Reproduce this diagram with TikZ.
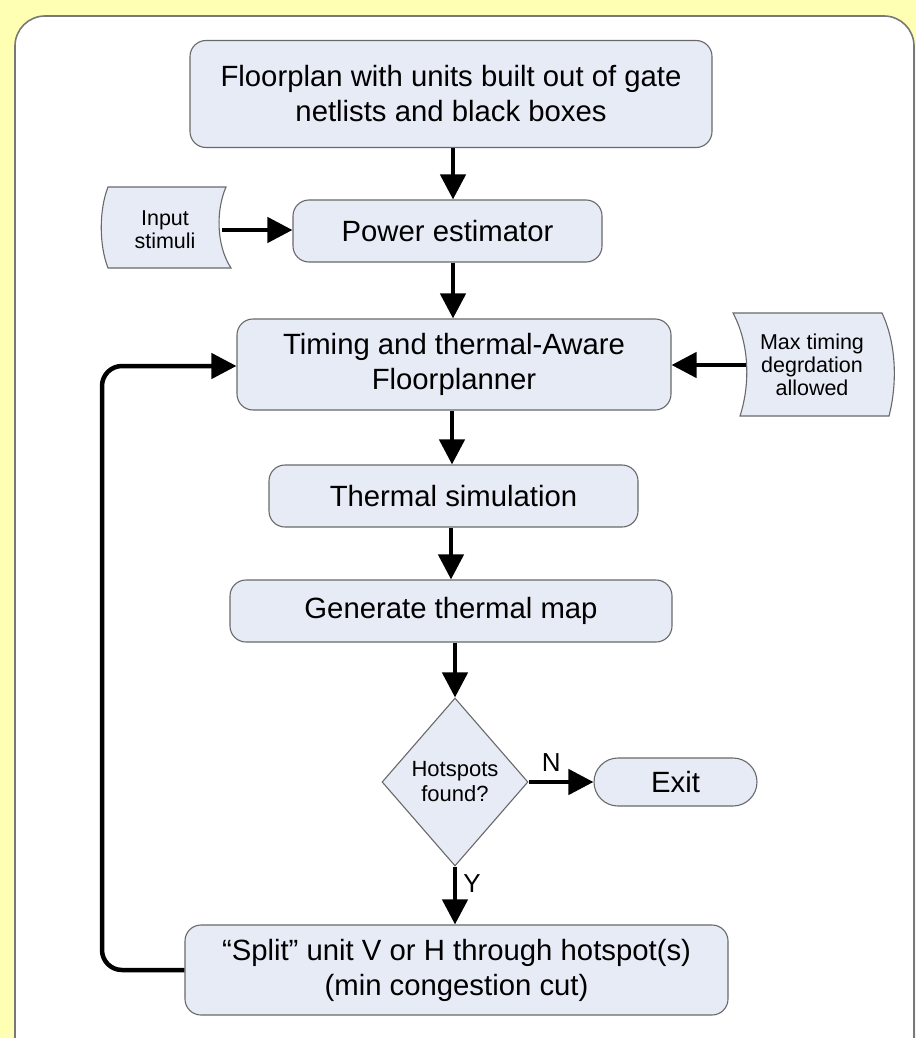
\documentclass[tikz,border=0pt]{standalone}
\usepackage{fontspec}
\setmainfont{Liberation Sans}
\usetikzlibrary{arrows.meta,shapes.geometric,calc}
\definecolor{bgyellow}{RGB}{255,255,180}
\definecolor{boxfill}{RGB}{230,235,246}
\definecolor{boxline}{RGB}{105,105,105}
\definecolor{panelline}{RGB}{120,120,120}
\tikzset{
  procbox/.style={draw=boxline, fill=boxfill, line width=1.1pt, rounded corners=16pt,
    align=center, inner sep=0pt, font=\fontsize{29.3}{35}\selectfont},
  smalltxt/.style={align=center, inner sep=0pt, font=\fontsize{21.5}{23}\selectfont},
  arr/.style={line width=4.5pt, -{Triangle[length=25pt,width=25pt]}},
  lbl/.style={inner sep=0pt, font=\fontsize{26}{30}\selectfont}
}
\begin{document}
\begin{tikzpicture}[x=1pt,y=-1pt]
\useasboundingbox (0,0) rectangle (916,1038);
\fill[bgyellow] (0,0) rectangle (916,1038);
\begin{scope}
\clip (0,0) rectangle (916,1038);
\draw[draw=panelline, fill=white, line width=1.6pt, rounded corners=30pt] (15,16) rectangle (914,1100);
\end{scope}

% main boxes
\node[procbox, minimum width=522pt, minimum height=107pt] (b1) at (451,94)
  {Floorplan with units built out of gate\\netlists and black boxes};
\node[procbox, minimum width=309pt, minimum height=62pt] (b2) at (447.5,231) {Power estimator};
\node[procbox, minimum width=434pt, minimum height=91pt] (b3) at (454,364.5)
  {Timing and thermal-Aware\\Floorplanner};
\node[procbox, minimum width=369pt, minimum height=62pt] (b4) at (453.5,496) {Thermal simulation};
\node[procbox, minimum width=442pt, minimum height=62pt] (b5) at (451,611) {Generate thermal map};
\node[diamond, draw=boxline, fill=boxfill, line width=1.1pt, minimum width=146pt, minimum height=168pt,
  inner sep=0pt, align=center, font=\fontsize{22}{25}\selectfont] (dia) at (455,782) {Hotspots\\found?};
\node[procbox, rounded corners=24pt, minimum width=163pt, minimum height=48pt] (exit) at (675.5,782) {Exit};
\node[procbox, minimum width=543pt, minimum height=90pt] (b6) at (456.5,970)
  {“Split” unit V or H through hotspot(s)\\(min congestion cut)};

% stored-data shapes
\draw[draw=boxline, fill=boxfill, line width=1.1pt]
  (108,187) -- (226,187) .. controls (216,210) and (216,245) .. (231,268)
  -- (108,268) .. controls (99,245) and (99,210) .. (108,187) -- cycle;
\node[smalltxt, minimum width=114pt] (inp) at (165,230) {Input\\stimuli};

\draw[draw=boxline, fill=boxfill, line width=1.1pt]
  (733,313) -- (882,313) .. controls (897,345) and (897,385) .. (889,416)
  -- (740,416) .. controls (750,385) and (750,345) .. (733,313) -- cycle;
\node[smalltxt, minimum width=132pt] (maxt) at (812,365) {Max timing\\degrdation\\allowed};

% connectors
\draw[arr] (b1.south -| 453,0) -- (b2.north -| 453,0);
\draw[arr] (inp.east) -- (b2.west |- inp.east);
\draw[arr] (b2.south -| 453,0) -- (b3.north -| 453,0);
\draw[arr] (maxt.west) -- (b3.east |- maxt.west);
\draw[arr] (b3.south -| 452,0) -- (b4.north -| 452,0);
\draw[arr] (b4.south -| 451,0) -- (b5.north -| 451,0);
\draw[arr] (dia.north |- b5.south) -- (dia.north);
\draw[arr] (dia.east) -- node[lbl, above=8pt, pos=0.35] {N} (exit.west);
\draw[arr] (dia.south) -- node[lbl, right=6pt, pos=0.3] {Y} (b6.north -| dia.south);
\coordinate (lp) at (102,366);
\draw[arr, rounded corners=20pt] (b6.west) -| (lp) -- (b3.west |- lp);
\end{tikzpicture}
\end{document}
